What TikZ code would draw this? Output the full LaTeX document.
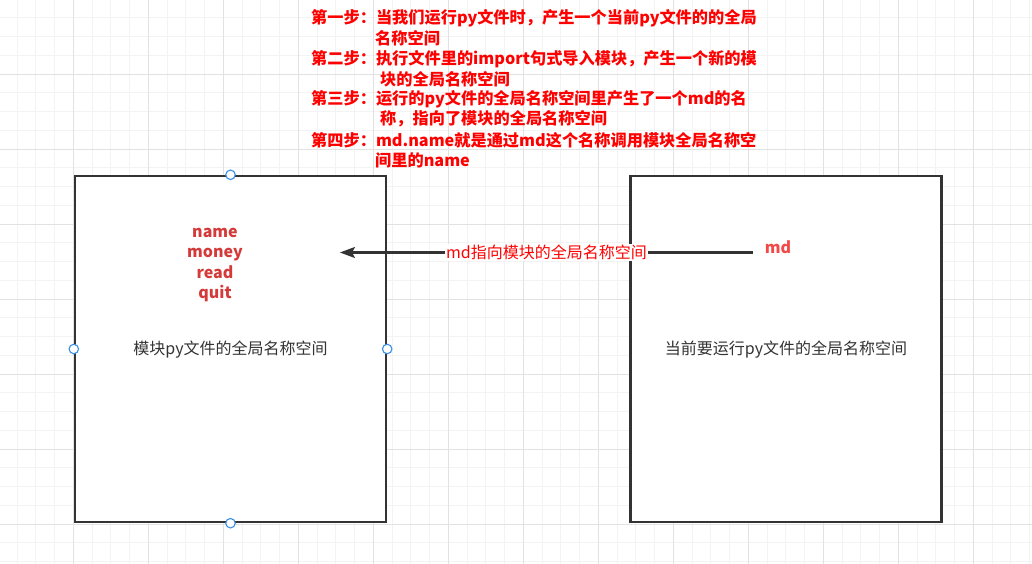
\documentclass[tikz,border=0pt]{standalone}
\usepackage{fontspec}
\setmainfont{Noto Sans CJK SC}
\usetikzlibrary{arrows.meta}
\definecolor{gridminor}{HTML}{F3F3F3}
\definecolor{gridmajor}{HTML}{E2E2E2}
\definecolor{boxline}{HTML}{333333}
\definecolor{stepred}{HTML}{FF0000}
\definecolor{namered}{HTML}{D43A3A}
\definecolor{mdred}{HTML}{F44848}
\definecolor{handleblue}{HTML}{3A8FE8}
\definecolor{labelgray}{HTML}{333333}
\tikzset{
  minorline/.style={draw=gridminor, line width=0.9pt},
  majorline/.style={draw=gridmajor, line width=0.9pt},
  nsbox/.style={draw=boxline, fill=white, line width=2.4pt, minimum width=311pt, minimum height=346pt, inner sep=0pt},
  handle/.style={circle, draw=handleblue, fill=white, line width=1.1pt, minimum size=9.5pt, inner sep=0pt},
  steptext/.style={anchor=west, inner sep=0pt, text=stepred, font=\fontsize{16.2}{20}\selectfont\bfseries},
  nametext/.style={inner sep=0pt, text=namered, font=\fontsize{16}{20.3}\selectfont\bfseries, align=center},
  boxlabel/.style={inner sep=0pt, text=labelgray, font=\fontsize{16}{20}\selectfont},
  arr/.style={draw=boxline, line width=2.2pt, -{Stealth[length=15pt, width=11pt, inset=3pt]}},
  arrlabel/.style={fill=white, inner sep=1pt, text=stepred, font=\fontsize{16}{20}\selectfont}
}
\begin{document}
\begin{tikzpicture}[x=1pt, y=-1pt]
\fill[white] (0,0) rectangle (1032,564);
\useasboundingbox (0,0) rectangle (1032,564);
% grid
\foreach \i in {0,...,55} {
  \pgfmathsetmacro\xx{-1.7+18.75*\i}
  \draw[minorline] (\xx,0) -- (\xx,564);
}
\foreach \i in {0,...,30} {
  \pgfmathsetmacro\yy{-1+18.75*\i}
  \draw[minorline] (0,\yy) -- (1032,\yy);
}
\foreach \i in {0,...,13} {
  \pgfmathsetmacro\xx{-1.7+75*\i}
  \draw[majorline] (\xx,0) -- (\xx,564);
}
\foreach \i in {0,...,7} {
  \pgfmathsetmacro\yy{-1+75*\i}
  \draw[majorline] (0,\yy) -- (1032,\yy);
}
% boxes
\node[nsbox] (L) at (230.5,349) {};
\node[nsbox] (R) at (786,349) {};
\node[boxlabel] (Llab) at (230.5,350) {模块py文件的全局名称空间};
\node[boxlabel] (Rlab) at (786,350) {当前要运行py文件的全局名称空间};
% names
\node[nametext] (names) at (215,265) {name\\money\\read\\quit};
% arrow
\coordinate (mdend) at (753,252.5);
\coordinate (tip) at (340,252.5);
\draw[arr] (mdend) -- (tip) node[midway, arrlabel] (alab) {md指向模块的全局名称空间};
\node[inner sep=0pt, text=mdred, font=\fontsize{16}{20}\selectfont\bfseries] (md) at (778,247) {md};
% handles
\node[handle] (h1) at (L.north) {};
\node[handle] (h2) at (L.south) {};
\node[handle] (h3) at (L.west) {};
\node[handle] (h4) at (L.east) {};
% steps
\node[steptext] (s1) at (311,18) {第一步：当我们运行py文件时，产生一个当前py文件的的全局};
\node[steptext] (s1b) at (375,38) {名称空间};
\node[steptext] (s2) at (311,59) {第二步：执行文件里的import句式导入模块，产生一个新的模};
\node[steptext] (s2b) at (380,79) {块的全局名称空间};
\node[steptext] (s3) at (311,99) {第三步：运行的py文件的全局名称空间里产生了一个md的名};
\node[steptext] (s3b) at (380,119) {称，指向了模块的全局名称空间};
\node[steptext] (s4) at (311,140) {第四步：md.name就是通过md这个名称调用模块全局名称空};
\node[steptext] (s4b) at (375,160) {间里的name};
\end{tikzpicture}
\end{document}
